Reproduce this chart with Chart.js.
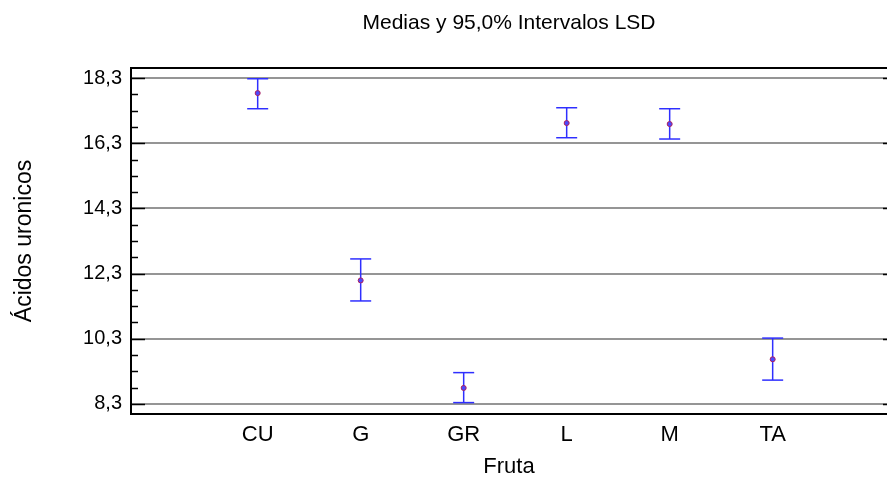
<!DOCTYPE html>
<html>
<head>
<meta charset="utf-8">
<script src="https://cdn.jsdelivr.net/npm/chart.js@4"></script>
<style>
  body { margin: 0; background: #fff; }
</style>
</head>
<body>
<canvas id="chart" width="887" height="478"></canvas>
<script>
// values
var categories = ["CU", "G", "GR", "L", "M", "TA"];
var means = [17.84, 12.09, 8.79, 16.92, 16.89, 9.67];
var lower = [17.36, 11.46, 8.34, 16.47, 16.43, 9.03];
var upper = [18.28, 12.75, 9.26, 17.39, 17.36, 10.32];
var yTickValues = [8.3, 10.3, 12.3, 14.3, 16.3, 18.3];
var yTickLabels = ["8,3", "10,3", "12,3", "14,3", "16,3", "18,3"];
var yMinorStep = 0.5;

var blue = "#2f2fff";

var meanPoints = [];
var barSegments = [];
var capPoints = [];
for (var i = 0; i < categories.length; i++) {
  meanPoints.push({x: i, y: means[i]});
  barSegments.push({x: i, y: lower[i]});
  barSegments.push({x: i, y: upper[i]});
  barSegments.push({x: i, y: null});
  capPoints.push({x: i, y: lower[i]});
  capPoints.push({x: i, y: upper[i]});
}

// inward tick marks, top frame line, right edge ticks
var framePlugin = {
  id: "frame",
  afterDraw: function(chart) {
    var ctx = chart.ctx;
    var a = chart.chartArea;
    var ys = chart.scales.y;
    ctx.save();
    ctx.strokeStyle = "#000";
    ctx.lineWidth = 2;
    ctx.beginPath();
    ctx.moveTo(a.left, a.top);
    ctx.lineTo(a.right, a.top);
    ctx.stroke();
    ctx.lineWidth = 1.5;
    for (var v = yTickValues[0]; v <= ys.max + 1e-9; v += yMinorStep) {
      var py = Math.round(ys.getPixelForValue(v)) + 0.5;
      var isMajor = yTickValues.some(function(t) { return Math.abs(t - v) < 1e-6; });
      ctx.beginPath();
      ctx.moveTo(a.left, py);
      ctx.lineTo(a.left + (isMajor ? 14 : 7), py);
      ctx.stroke();
      if (isMajor) {
        ctx.beginPath();
        ctx.moveTo(a.right - 4, py);
        ctx.lineTo(a.right, py);
        ctx.stroke();
      }
    }
    ctx.restore();
  }
};

new Chart(document.getElementById("chart"), {
  type: "scatter",
  data: {
    datasets: [
      {
        label: "Media",
        data: meanPoints,
        pointStyle: "circle",
        pointRadius: 2.5,
        pointBorderWidth: 1,
        borderColor: "#b0205a",
        backgroundColor: "#4a4aff"
      },
      {
        label: "Intervalo",
        type: "line",
        data: barSegments,
        spanGaps: false,
        pointRadius: 0,
        borderColor: blue,
        borderWidth: 1.5,
        fill: false
      },
      {
        label: "Limites",
        data: capPoints,
        pointStyle: "line",
        pointRadius: 10.5,
        pointBorderWidth: 1.5,
        borderColor: blue,
        backgroundColor: blue
      }
    ]
  },
  options: {
    responsive: false,
    animation: false,
    layout: { padding: 0, autoPadding: false },
    plugins: {
      legend: { display: false },
      tooltip: { enabled: false },
      title: {
        display: true,
        text: "Medias y 95,0% Intervalos LSD",
        fullSize: false,
        color: "#000",
        font: { family: "'Liberation Sans', Arial, sans-serif", size: 21, weight: "normal", lineHeight: 1 },
        padding: { top: 13, bottom: 34 }
      }
    },
    scales: {
      x: {
        type: "linear",
        min: -1.23,
        max: 6.11,
        afterBuildTicks: function(scale) {
          scale.ticks = categories.map(function(c, i) { return {value: i}; });
        },
        afterFit: function(scale) {
          scale.height = 64;
          scale.paddingLeft = 0;
          scale.paddingRight = 0;
        },
        grid: { display: false, drawTicks: false },
        border: { display: true, color: "#000", width: 2 },
        ticks: {
          padding: 8,
          color: "#000",
          font: { family: "'Liberation Sans', Arial, sans-serif", size: 22 },
          callback: function(value) { return categories[value]; }
        },
        title: {
          display: true,
          text: "Fruta",
          color: "#000",
          font: { family: "'Liberation Sans', Arial, sans-serif", size: 22, lineHeight: 1 },
          padding: { top: 0, bottom: 0 }
        }
      },
      y: {
        type: "linear",
        min: 7.99,
        max: 18.61,
        afterBuildTicks: function(scale) {
          scale.ticks = yTickValues.map(function(v) { return {value: v}; });
        },
        afterFit: function(scale) {
          scale.width = 131;
          scale.paddingTop = 0;
          scale.paddingBottom = 0;
        },
        grid: { display: true, drawTicks: false, color: "#959595", lineWidth: 2 },
        border: { display: true, color: "#000", width: 2 },
        ticks: {
          padding: 9,
          color: "#000",
          font: { family: "'Liberation Sans', Arial, sans-serif", size: 20 },
          callback: function(value, index) { return yTickLabels[index]; }
        },
        title: {
          display: true,
          text: "Ácidos uronicos",
          color: "#000",
          font: { family: "'Liberation Sans', Arial, sans-serif", size: 23, lineHeight: 1 },
          padding: { top: 13, bottom: 0 }
        }
      }
    }
  },
  plugins: [framePlugin]
});
</script>
</body>
</html>
